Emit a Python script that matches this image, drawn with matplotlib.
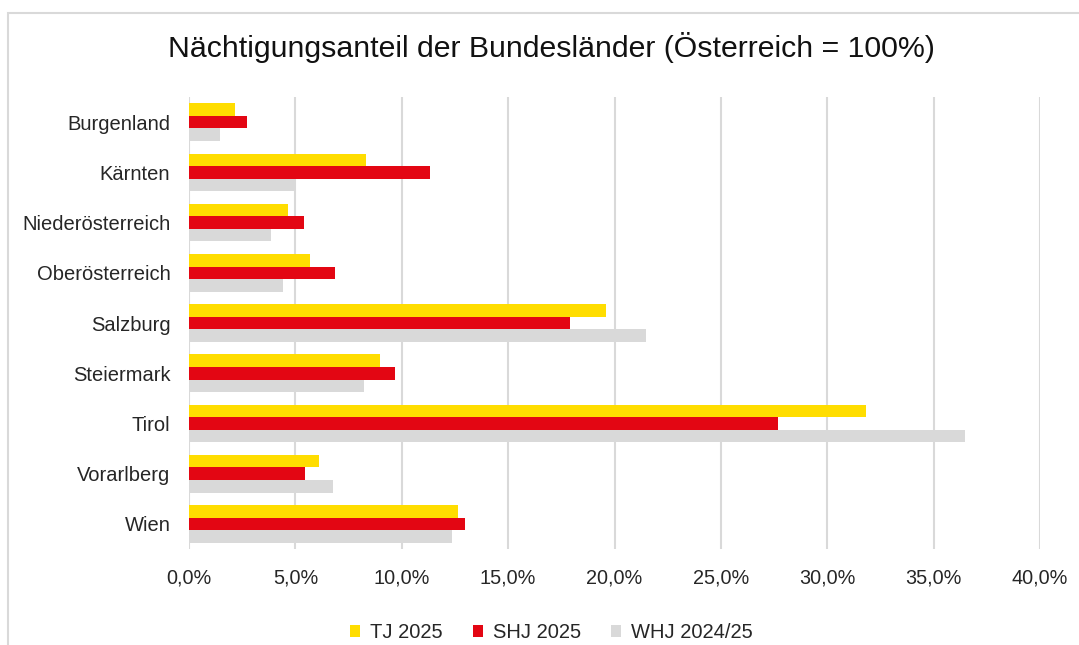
import numpy as np
import matplotlib.pyplot as plt
from matplotlib.patches import Rectangle
from matplotlib.ticker import FuncFormatter

plt.rcParams['font.family'] = ['Liberation Sans', 'DejaVu Sans']

OUT_FILE = 'out.png'

# Bundeslaender, von oben nach unten
laender = ['Burgenland', 'Kärnten', 'Niederösterreich', 'Oberösterreich',
           'Salzburg', 'Steiermark', 'Tirol', 'Vorarlberg', 'Wien']

# Naechtigungsanteile in Prozent
tj_2025 = [2.16, 8.31, 4.66, 5.68, 19.58, 8.99, 31.80, 6.09, 12.66]
shj_2025 = [2.73, 11.33, 5.38, 6.86, 17.90, 9.66, 27.70, 5.43, 12.96]
whj_2024_25 = [1.46, 4.99, 3.84, 4.41, 21.50, 8.22, 36.48, 6.79, 12.36]

series_names = ['TJ 2025', 'SHJ 2025', 'WHJ 2024/25']
series_colors = ['#FFDD00', '#E30613', '#D9D9D9']
x_ticks = [0, 5, 10, 15, 20, 25, 30, 35, 40]

TEXT = '#262626'

fig = plt.figure(figsize=(10.79, 6.45), dpi=100)
ax = fig.add_axes([0.1752, 0.1488, 0.7887, 0.7008])

# Rahmen um das ganze Diagramm
fig.patches.append(Rectangle((8 / 1079, -0.05), 1.2, 1 - 13 / 645 + 0.05,
                             transform=fig.transFigure, fill=False,
                             edgecolor='#D9D9D9', linewidth=1.5))

y = np.arange(len(laender))
bar_h = 0.25
all_series = [tj_2025, shj_2025, whj_2024_25]
for i, (vals, name, col) in enumerate(zip(all_series, series_names, series_colors)):
    ax.barh(y + (i - 1) * bar_h, vals, height=bar_h, color=col, label=name, zorder=3)

ax.set_ylim(len(laender) - 0.5, -0.5)
ax.set_yticks(y)
ax.set_yticklabels(laender)
ax.set_xlim(0, 40)
ax.set_xticks(x_ticks)
ax.xaxis.set_major_formatter(FuncFormatter(lambda v, p: f'{v:.1f}%'.replace('.', ',')))

ax.grid(axis='x', color='#D9D9D9', linewidth=1.5, zorder=0)
for s in ax.spines.values():
    s.set_visible(False)
ax.tick_params(axis='y', length=0, labelsize=14.5, colors=TEXT, pad=13.5)
ax.tick_params(axis='x', length=0, labelsize=14.3, colors=TEXT, pad=14)

fig.text(0.511, 0.926, 'Nächtigungsanteil der Bundesländer (Österreich = 100%)',
         ha='center', va='center', fontsize=21.8, color='#111111')

fig.legend(loc='center', bbox_to_anchor=(0.511, 0.019), ncol=3, frameon=False,
           fontsize=14.5, handlelength=0.5, handleheight=0.5, columnspacing=1.5,
           handletextpad=0.5, labelcolor=TEXT)

fig.savefig(OUT_FILE, dpi=100)
